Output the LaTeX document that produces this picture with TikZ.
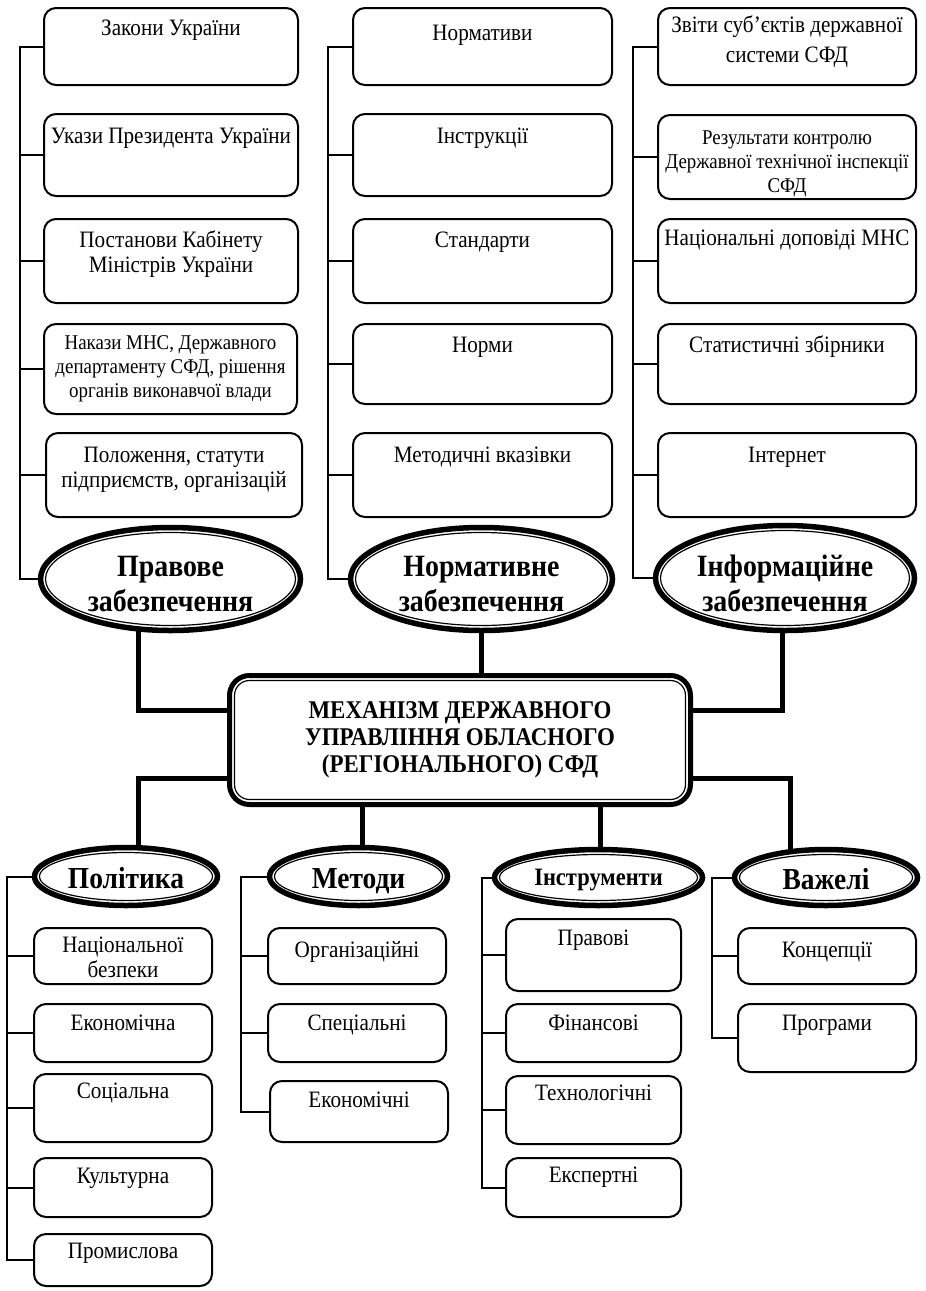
\documentclass[tikz,border=0pt]{standalone}
\usepackage{fontspec}
\setmainfont{Liberation Serif}[FakeStretch=0.9]
\usetikzlibrary{shapes.geometric,backgrounds}
\newcommand\fnorm{\fontsize{23.5}{25.5}\selectfont}
\newcommand\fsmall{\fontsize{21}{24}\selectfont}
\newcommand\fbig{\bfseries\fontsize{31}{35}\selectfont}
\newcommand\fmid{\bfseries\fontsize{30.5}{32}\selectfont}
\newcommand\fins{\bfseries\fontsize{25}{28}\selectfont}
\newcommand\fmech{\bfseries\fontsize{25.5}{27}\selectfont}
\tikzset{
  box/.style={draw, rounded corners=12, line width=2, fill=white, inner sep=0, outer sep=0},
  txt/.style={inner sep=0, outer sep=0, align=center},
  ovout/.style={ellipse, draw, line width=5.5, fill=white, inner sep=0, outer sep=0},
  ovin/.style={line width=1.2},
  mainbox/.style={draw, rounded corners=20, line width=5, fill=white, inner sep=0, outer sep=0},
  cthin/.style={line width=2},
  cthick/.style={line width=5},
}
% box: [font] name x1 y1 x2 y2 baseline text
\newcommand\bx[8][\fnorm]{%
  \node[box, minimum width={#5-#3-2}, minimum height={#6-#4-2}] (#2) at ({(#3+#5)/2},{-(#4+#6)/2}) {};
  \node[txt, font=#1, anchor=north] (#2t) at ({(#3+#5)/2},{-(#4+#7-17)}) {\rule{0pt}{17pt}#8};}
% oval shape: name cx cy W H
\newcommand\ovshape[5]{%
  \node[ovout, minimum width={#4-5}, minimum height={#5-5}] (#1) at (#2,-#3) {};
  \draw[ovin] (#1.center) ellipse [x radius={(#4-5)/2-5}, y radius={(#5-5)/2-5}];}
% two-line oval: name cx cy W H text yshift
\newcommand\ov[7]{%
  \ovshape{#1}{#2}{#3}{#4}{#5}
  \node[txt, font=\fbig] (#1t) at ([yshift=#7]#1.center) {#6};}
% one-line oval: name cx cy W H font text baseline
\newcommand\ovb[8]{%
  \ovshape{#1}{#2}{#3}{#4}{#5}
  \node[txt, font=#6, anchor=base] (#1t) at (#2,-#8) {#7};}
\begin{document}
\begin{tikzpicture}[x=1pt, y=1pt]
\useasboundingbox (0,0) rectangle (926,-1291);
\begin{scope}[on background layer]
  \fill[white] (0,0) rectangle (926,-1291);
\end{scope}

% top-left column
\bx{L1}{43}{7}{299}{86}{28}{Закони України}
\bx{L2}{43}{113}{299}{197}{30}{Укази Президента України}
\bx{L3}{43}{218}{299}{304}{29}{Постанови Кабінету\\Міністрів України}
\bx[\fsmall]{L4}{43}{323}{298}{415}{26}{Накази МНС, Державного\\департаменту СФД, рішення\\органів виконавчої влади}
\bx{L5}{45}{432}{303}{518}{30}{Положення, статути\\підприємств, організацій}
% top-middle column
\bx{M1}{352}{7}{613}{86}{33}{Нормативи}
\bx{M2}{352}{113}{613}{197}{30}{Інструкції}
\bx{M3}{352}{218}{613}{304}{29}{Стандарти}
\bx{M4}{352}{323}{613}{405}{29}{Норми}
\bx{M5}{352}{432}{613}{518}{30}{Методичні вказівки}
% top-right column
\bx{R1}{657}{7}{917}{86}{25}{Звіти суб’єктів державної\\[5pt]системи СФД}
\bx[\fsmall]{R2}{657}{114}{917}{200}{30}{Результати контролю\\Державної технічної інспекції\\СФД}
\bx{R3}{657}{218}{917}{304}{27}{Національні доповіді МНС}
\bx{R4}{657}{323}{917}{405}{29}{Статистичні збірники}
\bx{R5}{657}{432}{917}{518}{30}{Інтернет}

% top ovals
\ov{pr}{170.5}{579}{265}{108}{Правове\\забезпечення}{-5}
\ov{no}{481.5}{579}{267}{108}{Нормативне\\забезпечення}{-5}
\ov{inf}{785}{578}{264}{110}{Інформаційне\\забезпечення}{-5}

% central box
\node[mainbox, minimum width=461, minimum height=129] (mech) at (460,-740) {};
\draw[line width=1.2, rounded corners=15] ([shift={(5,-5)}]mech.north west) rectangle ([shift={(-5,5)}]mech.south east);
\node[txt, font=\fmech] (mecht) at (460,-740) {МЕХАНІЗМ ДЕРЖАВНОГО\\УПРАВЛІННЯ ОБЛАСНОГО\\(РЕГІОНАЛЬНОГО) СФД};

% bottom ovals
\ovb{po}{126}{876.5}{188}{63}{\fmid}{Політика}{888}
\ovb{me}{358.5}{876.5}{183}{63}{\fmid}{Методи}{888}
\ovb{ins}{598.5}{877.5}{213}{61}{\fins}{Інструменти}{885}
\ovb{va}{826}{877.5}{188}{61}{\fmid}{Важелі}{889}

% bottom boxes
\bx{P1}{33}{927}{213}{985}{25}{Національної\\безпеки}
\bx{P2}{33}{1003}{213}{1063}{27}{Економічна}
\bx{P3}{33}{1073}{213}{1143}{25}{Соціальна}
\bx{P4}{33}{1157}{213}{1218}{26}{Культурна}
\bx{P5}{33}{1233}{213}{1287}{25}{Промислова}
\bx{E1}{267}{927}{447}{985}{30}{Організаційні}
\bx{E2}{267}{1003}{447}{1063}{27}{Спеціальні}
\bx{E3}{269}{1080}{449}{1143}{27}{Економічні}
\bx{I1}{505}{918}{682}{992}{27}{Правові}
\bx{I2}{505}{1003}{682}{1063}{27}{Фінансові}
\bx{I3}{505}{1075}{682}{1145}{25}{Технологічні}
\bx{I4}{505}{1157}{682}{1218}{25}{Експертні}
\bx{V1}{737}{927}{917}{985}{30}{Концепції}
\bx{V2}{737}{1003}{917}{1073}{27}{Програми}

\begin{scope}[on background layer]
  % top column spines
  \coordinate (cl) at (20,0);
  \coordinate (cm) at (328,0);
  \coordinate (cr) at (633,0);
  \draw[cthin] (L1.west) -| (pr.center -| cl) -- (pr.center);
  \foreach \b in {L2,L3,L4,L5} \draw[cthin] (\b.west) -- (\b.west -| cl);
  \draw[cthin] (M1.west) -| (no.center -| cm) -- (no.center);
  \foreach \b in {M2,M3,M4,M5} \draw[cthin] (\b.west) -- (\b.west -| cm);
  \draw[cthin] (R1.west) -| (inf.center -| cr) -- (inf.center);
  \foreach \b in {R2,R3,R4,R5} \draw[cthin] (\b.west) -- (\b.west -| cr);
  % ovals to the central box
  \coordinate (j1) at (138,-710);
  \coordinate (j2) at (782,-710);
  \draw[cthick] (pr.center -| j1) -- (j1) -- (mech.west |- j1);
  \draw[cthick] (no.center) -- (no.center |- mech.north);
  \draw[cthick] (inf.center -| j2) -- (j2) -- (mech.east |- j2);
  % central box to the lower ovals
  \coordinate (j3) at (138,-778);
  \coordinate (j4) at (362,0);
  \coordinate (j5) at (600,0);
  \coordinate (j6) at (790,-778);
  \draw[cthick] (mech.west |- j3) -- (j3) -- (po.center -| j3);
  \draw[cthick] (mech.south -| j4) -- (me.center -| j4);
  \draw[cthick] (mech.south -| j5) -- (ins.center -| j5);
  \draw[cthick] (mech.east |- j6) -- (j6) -- (va.center -| j6);
  % lower column spines
  \coordinate (bp) at (7,0);
  \coordinate (be) at (241,0);
  \coordinate (bi) at (482,0);
  \coordinate (bv) at (712,0);
  \draw[cthin] (po.center) -- (po.center -| bp) |- (P5.west);
  \foreach \b in {P1,P2,P3,P4} \draw[cthin] (\b.west) -- (\b.west -| bp);
  \draw[cthin] (me.center) -- (me.center -| be) |- (E3.west);
  \foreach \b in {E1,E2} \draw[cthin] (\b.west) -- (\b.west -| be);
  \draw[cthin] (ins.center) -- (ins.center -| bi) |- (I4.west);
  \foreach \b in {I1,I2,I3} \draw[cthin] (\b.west) -- (\b.west -| bi);
  \draw[cthin] (va.center) -- (va.center -| bv) |- (V2.west);
  \draw[cthin] (V1.west) -- (V1.west -| bv);
\end{scope}
\end{tikzpicture}
\end{document}
